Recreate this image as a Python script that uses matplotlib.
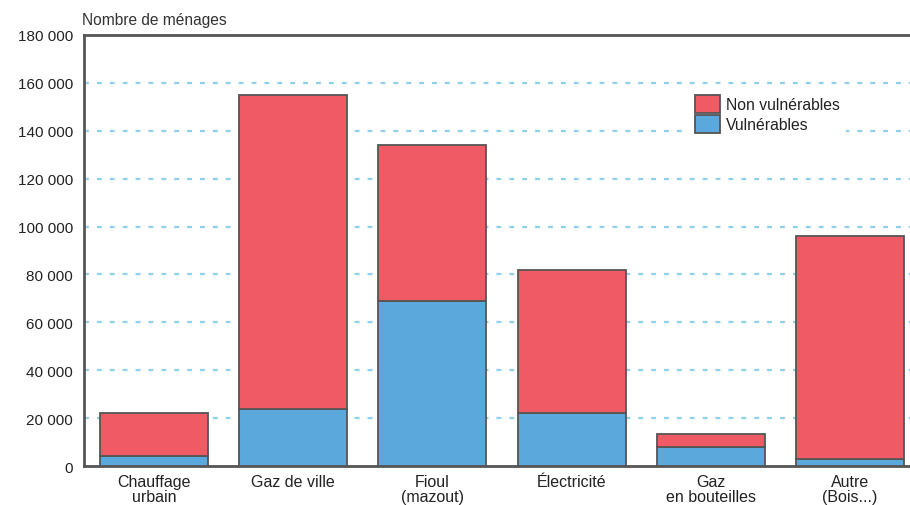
import numpy as np
import matplotlib.pyplot as plt
from matplotlib.ticker import FuncFormatter

plt.rcParams['font.family'] = ['Liberation Sans', 'DejaVu Sans']

categories = ['Chauffage\nurbain', 'Gaz de ville', 'Fioul\n(mazout)',
              'Électricité', 'Gaz\nen bouteilles', 'Autre\n(Bois...)']
totals = [22000, 155000, 134000, 82000, 13500, 96000]
vulnerables = [4000, 24000, 69000, 22000, 8000, 3000]
non_vulnerables = [t - v for t, v in zip(totals, vulnerables)]

red = '#f05a65'
blue = '#5ba8dc'
edge = '#555555'
txt = '#222222'

fig = plt.figure(figsize=(9.1, 5.06), dpi=100)
ax = fig.add_axes([0.0923, 0.077, 0.9077, 0.852])

x = np.arange(len(categories))
w = 0.776
ax.bar(x, vulnerables, w, color=blue, edgecolor=edge, linewidth=1.3,
       label='Vulnérables', zorder=3)
ax.bar(x, non_vulnerables, w, bottom=vulnerables, color=red, edgecolor=edge,
       linewidth=1.3, label='Non vulnérables', zorder=3)

ax.set_xlim(-0.503, 5.43)
ax.set_ylim(0, 180000)
ax.set_yticks(np.arange(0, 180001, 20000))
ax.yaxis.set_major_formatter(FuncFormatter(lambda v, p: f'{int(v):,}'.replace(',', ' ')))
ax.set_xticks(x)
ax.set_xticklabels(categories, linespacing=0.95, fontsize=11.5)
ax.tick_params(length=0, labelsize=11, colors=txt)
ax.tick_params(axis='x', pad=6, labelsize=11.5)
ax.tick_params(axis='y', pad=8)

for yv in np.arange(20000, 180000, 20000):
    ax.axhline(yv, color='#8fd0ea', lw=1.6, ls=(0, (2.2, 3.6)), zorder=1)

for s in ['left', 'top', 'bottom']:
    ax.spines[s].set_color(edge)
    ax.spines[s].set_linewidth(2)
ax.spines['right'].set_visible(False)

fig.text(0.09, 0.945, 'Nombre de ménages', fontsize=11.2, color='#333333', va='bottom')

handles, labels = ax.get_legend_handles_labels()
leg = ax.legend(handles[::-1], labels[::-1], loc='upper left',
                bbox_to_anchor=(0.748, 0.838), bbox_transform=fig.transFigure,
                frameon=True, fontsize=11.3, handlelength=1.6, handleheight=1.4,
                handletextpad=0.4, labelspacing=0.12, borderpad=0.4)
leg.get_frame().set_facecolor('white')
leg.get_frame().set_edgecolor('none')
leg.get_frame().set_alpha(1)
leg.set_zorder(5)
for t in leg.get_texts():
    t.set_color(txt)

fig.savefig('out.png', dpi=100)
